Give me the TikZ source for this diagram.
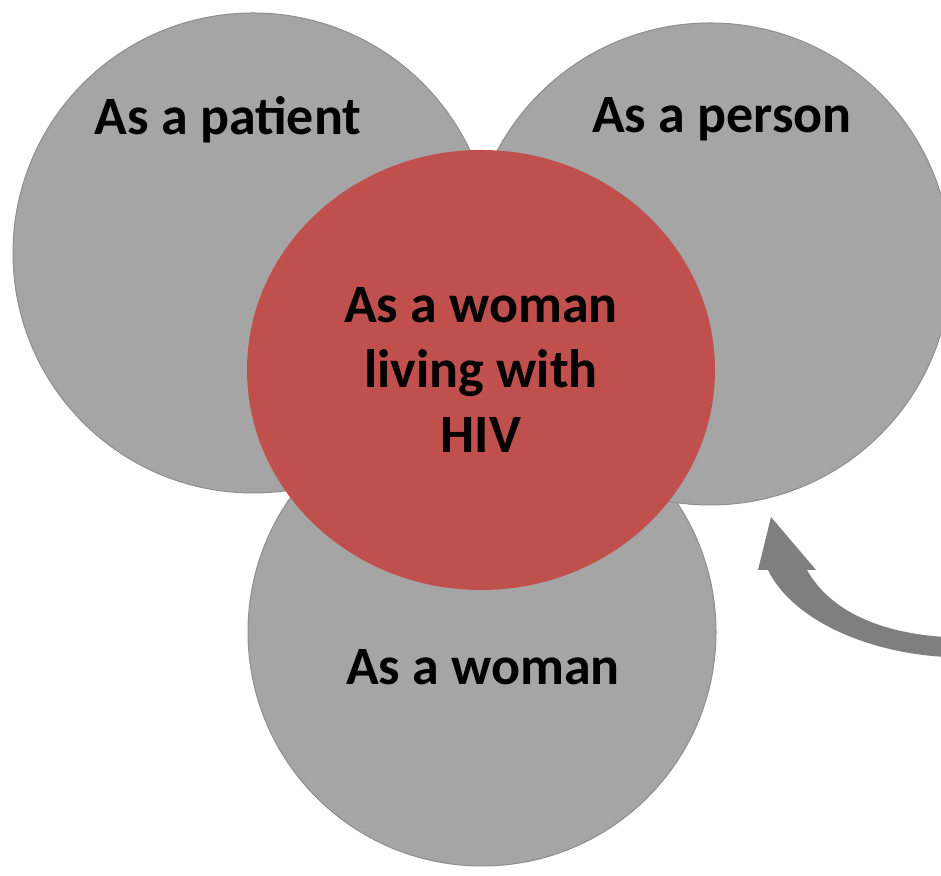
\documentclass[tikz,border=0pt]{standalone}
\usepackage{fontspec}
\setmainfont{Carlito}
\usepackage{tikz}
\usetikzlibrary{shapes.geometric, positioning}

\definecolor{ringgray}{HTML}{A5A5A5}
\definecolor{ringedge}{HTML}{8E8E8E}
\definecolor{hivred}{HTML}{C0504D}
\definecolor{arrowgray}{HTML}{7F7F7F}

\begin{document}
\begin{tikzpicture}[x=0.5pt, y=0.5pt,
        ring/.style={circle, fill=ringgray, draw=ringedge, line width=0.5pt, inner sep=0pt},
        ringtext/.style={font=\fontsize{27}{32.5}\selectfont\bfseries, anchor=base}]
    \useasboundingbox (0,0) rectangle (941,876);

    % the three grey circles
    \node[ring, minimum size=234pt] (woman) at (482,244) {};
    \node[ring, minimum size=240pt] (patient) at (253,623) {};
    \node[ring, minimum size=241pt] (person) at (710,612) {};

    % red centre
    \node[ellipse, fill=hivred, minimum width=234pt, minimum height=220pt, inner sep=0pt,
          align=center, font=\fontsize{27}{32.5}\selectfont\bfseries] (hiv) at (481,506)
          {As a woman\\living with\\HIV};

    \node[ringtext] (patientlbl) at (228,741) {As a patient};
    \node[ringtext] (personlbl) at (722,743) {As a person};
    \node[ringtext] (womanlbl) at (483,191) {As a woman};

    % curved arrow
    \fill[arrowgray] (945,219) .. controls (860,224) and (790,260) .. (768,306)
        -- (758,306) -- (771,359) -- (816,306) -- (807,306)
        .. controls (830,265) and (880,243) .. (945,239) -- cycle;
\end{tikzpicture}
\end{document}
